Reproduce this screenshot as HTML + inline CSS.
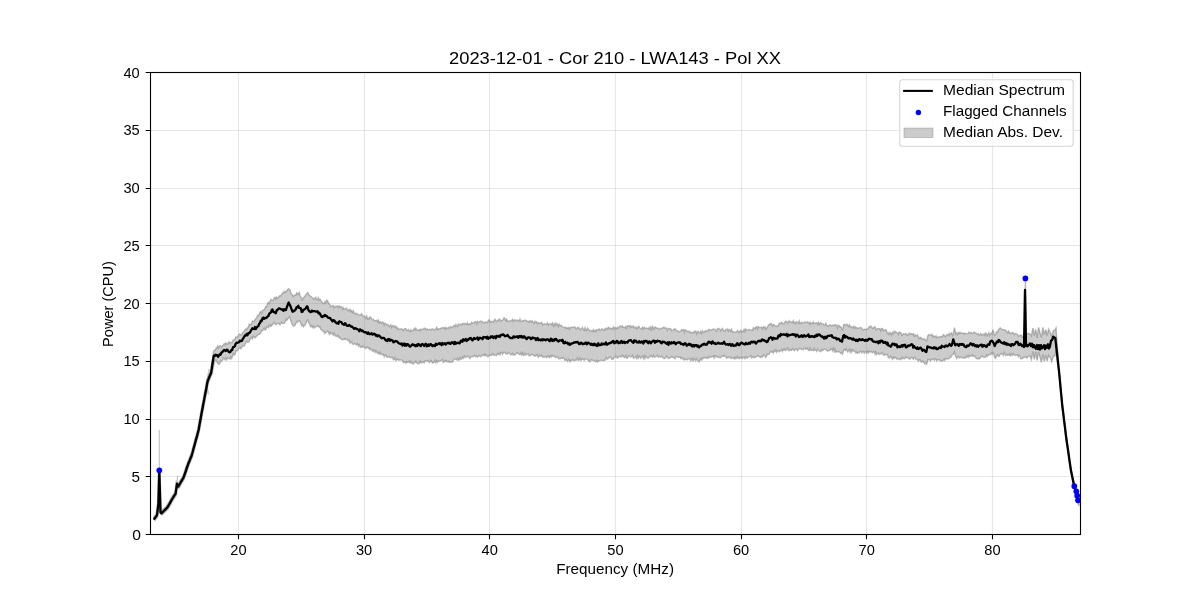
<!DOCTYPE html><html><head><meta charset="utf-8"><style>html,body{margin:0;padding:0;background:#fff;}svg{display:block;will-change:transform;}text{font-family:"Liberation Sans",sans-serif;fill:#000;}</style></head><body>
<svg width="1200" height="600" viewBox="0 0 1200 600">
<path d="M238.50 72.5V534.5" stroke="#b0b0b0" stroke-opacity="0.3" stroke-width="1.1" fill="none"/>
<path d="M364.50 72.5V534.5" stroke="#b0b0b0" stroke-opacity="0.3" stroke-width="1.1" fill="none"/>
<path d="M489.50 72.5V534.5" stroke="#b0b0b0" stroke-opacity="0.3" stroke-width="1.1" fill="none"/>
<path d="M615.50 72.5V534.5" stroke="#b0b0b0" stroke-opacity="0.3" stroke-width="1.1" fill="none"/>
<path d="M741.50 72.5V534.5" stroke="#b0b0b0" stroke-opacity="0.3" stroke-width="1.1" fill="none"/>
<path d="M866.50 72.5V534.5" stroke="#b0b0b0" stroke-opacity="0.3" stroke-width="1.1" fill="none"/>
<path d="M992.50 72.5V534.5" stroke="#b0b0b0" stroke-opacity="0.3" stroke-width="1.1" fill="none"/>
<path d="M150.5 476.50H1080.5" stroke="#b0b0b0" stroke-opacity="0.3" stroke-width="1.1" fill="none"/>
<path d="M150.5 419.50H1080.5" stroke="#b0b0b0" stroke-opacity="0.3" stroke-width="1.1" fill="none"/>
<path d="M150.5 361.50H1080.5" stroke="#b0b0b0" stroke-opacity="0.3" stroke-width="1.1" fill="none"/>
<path d="M150.5 303.50H1080.5" stroke="#b0b0b0" stroke-opacity="0.3" stroke-width="1.1" fill="none"/>
<path d="M150.5 245.50H1080.5" stroke="#b0b0b0" stroke-opacity="0.3" stroke-width="1.1" fill="none"/>
<path d="M150.5 188.50H1080.5" stroke="#b0b0b0" stroke-opacity="0.3" stroke-width="1.1" fill="none"/>
<path d="M150.5 130.50H1080.5" stroke="#b0b0b0" stroke-opacity="0.3" stroke-width="1.1" fill="none"/>
<defs><clipPath id="ax"><rect x="150" y="72" width="931" height="463"/></clipPath></defs>
<g clip-path="url(#ax)"><path d="M153.6 517.2 L154.5 516.0 L155.3 514.9 L156.2 513.7 L157.6 502.3 L158.5 469.2 L159.7 511.1 L160.6 511.9 L161.5 511.0 L162.3 510.2 L163.2 509.3 L164.1 508.4 L165.0 507.5 L165.8 506.7 L166.7 505.8 L167.5 504.4 L168.3 503.0 L169.1 501.6 L169.9 500.1 L170.7 498.7 L171.5 497.3 L172.3 496.0 L173.1 494.7 L174.0 493.4 L174.8 492.1 L176.2 482.2 L177.4 485.1 L178.3 483.6 L179.1 482.2 L180.0 480.7 L180.9 479.2 L181.7 477.8 L182.6 476.3 L183.5 473.8 L184.4 471.3 L185.2 468.8 L186.1 466.2 L187.0 463.7 L187.9 461.2 L188.9 458.9 L189.8 456.5 L190.8 454.2 L191.8 450.7 L192.7 447.2 L193.7 443.7 L194.5 440.7 L195.3 437.6 L196.2 434.6 L197.0 431.5 L197.8 428.5 L198.8 422.7 L199.9 416.8 L200.9 411.0 L201.8 406.5 L202.6 402.0 L203.5 397.5 L204.3 393.0 L205.2 388.5 L206.0 384.0 L206.9 379.5 L207.8 377.4 L208.6 375.4 L209.5 373.3 L210.4 371.2 L211.2 366.1 L212.0 361.0 L212.9 355.9 L213.7 350.8 L214.5 350.3 L215.3 350.2 L216.1 348.0 L216.9 348.0 L217.7 346.0 L218.5 348.1 L219.3 346.2 L220.1 345.7 L220.9 346.1 L221.7 347.1 L222.5 345.6 L223.3 345.0 L224.1 343.9 L224.9 344.8 L225.7 342.8 L226.5 343.8 L227.3 344.1 L228.1 343.5 L228.9 341.8 L229.7 343.5 L230.5 342.4 L231.3 342.5 L232.2 342.6 L233.1 340.0 L234.0 339.9 L234.9 339.5 L235.8 337.0 L236.7 337.5 L237.5 336.7 L238.3 335.6 L239.2 334.1 L240.0 334.2 L240.8 335.0 L241.7 334.7 L242.5 332.9 L243.3 332.0 L244.1 331.6 L245.0 329.9 L245.8 328.9 L246.7 329.6 L247.5 327.8 L248.3 327.4 L249.2 324.2 L250.0 324.5 L250.8 324.9 L251.7 323.1 L252.5 321.0 L253.3 321.4 L254.2 321.5 L255.0 319.8 L255.9 318.5 L256.7 318.0 L257.5 315.5 L258.4 315.8 L259.2 314.4 L260.0 312.5 L260.8 311.6 L261.6 313.3 L262.5 310.7 L263.3 310.0 L264.1 310.1 L265.0 308.2 L265.8 306.5 L266.7 306.7 L267.5 303.8 L268.3 302.4 L269.2 303.9 L270.0 301.6 L270.9 299.4 L271.7 300.0 L272.5 300.4 L273.4 299.8 L274.2 297.8 L275.0 297.3 L275.9 299.2 L276.7 297.0 L277.5 298.3 L278.3 298.0 L279.2 296.1 L280.0 295.8 L280.8 295.8 L281.7 294.2 L282.5 293.6 L283.3 292.0 L284.2 292.7 L285.0 291.3 L285.9 292.0 L286.7 291.2 L287.5 289.8 L288.4 288.9 L289.2 289.2 L290.0 289.7 L290.8 293.2 L291.7 293.9 L292.5 295.4 L293.3 296.7 L294.1 295.4 L295.0 295.3 L295.8 295.3 L296.7 292.9 L297.5 294.4 L298.4 293.8 L299.2 292.5 L300.0 295.5 L300.9 297.3 L301.7 299.4 L302.5 300.0 L303.3 297.6 L304.2 297.3 L305.0 296.1 L305.8 294.7 L306.6 294.1 L307.5 292.8 L308.3 293.3 L309.1 295.4 L310.0 295.8 L310.8 296.1 L311.6 296.9 L312.5 298.2 L313.3 298.3 L314.1 299.5 L315.0 298.0 L315.8 297.4 L316.6 299.6 L317.5 299.8 L318.3 297.7 L319.2 300.2 L320.0 299.2 L320.8 300.4 L321.6 301.6 L322.5 302.7 L323.3 303.3 L324.1 303.7 L325.0 301.7 L325.8 302.8 L326.7 300.3 L327.5 300.8 L328.3 302.7 L329.1 303.8 L330.0 304.8 L330.8 306.7 L331.6 306.5 L332.5 305.6 L333.3 305.7 L334.1 307.9 L335.0 306.6 L335.8 306.2 L336.7 306.6 L337.5 305.9 L338.3 307.5 L339.2 306.0 L340.0 307.5 L340.8 306.6 L341.7 306.9 L342.5 309.4 L343.3 307.8 L344.1 309.1 L345.0 308.7 L345.8 308.8 L346.6 308.2 L347.5 310.5 L348.3 310.0 L349.1 310.8 L350.0 309.3 L350.8 311.7 L351.7 310.5 L352.5 312.3 L353.3 310.8 L354.2 313.1 L355.0 313.2 L355.9 314.2 L356.7 313.3 L357.5 314.4 L358.4 314.4 L359.2 315.0 L360.0 315.3 L360.9 314.6 L361.7 313.8 L362.5 315.7 L363.3 316.1 L364.2 315.9 L365.0 316.7 L365.8 318.2 L366.7 316.0 L367.5 318.9 L368.3 318.2 L369.1 319.2 L370.0 316.8 L370.8 317.3 L371.6 318.9 L372.5 319.7 L373.3 319.2 L374.1 320.8 L375.0 320.8 L375.8 320.3 L376.7 320.2 L377.5 321.8 L378.3 320.2 L379.2 323.1 L380.0 321.7 L380.9 322.1 L381.7 323.3 L382.5 322.1 L383.4 322.6 L384.2 325.1 L385.0 323.3 L385.9 323.8 L386.7 324.1 L387.5 325.4 L388.3 324.9 L389.2 326.6 L390.0 325.8 L390.8 324.9 L391.7 327.6 L392.5 325.6 L393.3 325.8 L394.1 326.9 L395.0 325.9 L395.8 327.8 L396.6 326.9 L397.5 329.1 L398.3 328.3 L399.1 329.4 L400.0 329.2 L400.8 329.3 L401.7 328.5 L402.5 330.0 L403.3 330.7 L404.2 329.0 L405.0 328.8 L405.9 328.7 L406.7 330.3 L407.5 330.4 L408.4 329.5 L409.2 330.7 L410.0 331.5 L410.9 329.8 L411.7 331.1 L412.5 330.6 L413.3 330.1 L414.2 328.6 L415.0 330.0 L415.8 328.3 L416.7 329.7 L417.5 330.3 L418.3 330.4 L419.1 329.7 L420.0 330.8 L420.8 329.2 L421.6 329.5 L422.5 329.5 L423.3 329.2 L424.1 328.2 L425.0 328.2 L425.8 329.8 L426.7 329.2 L427.5 329.0 L428.3 330.1 L429.2 329.6 L430.0 329.3 L430.9 329.9 L431.7 329.2 L432.5 328.9 L433.4 329.1 L434.2 330.0 L435.0 329.9 L435.9 328.7 L436.7 327.4 L437.5 329.8 L438.3 328.9 L439.2 329.2 L440.0 328.7 L440.8 328.3 L441.7 327.8 L442.5 328.0 L443.3 327.7 L444.1 327.6 L445.0 329.2 L445.8 327.5 L446.6 328.8 L447.5 328.2 L448.3 327.5 L449.1 328.4 L450.0 327.1 L450.8 326.6 L451.7 327.7 L452.5 327.4 L453.3 326.0 L454.2 325.4 L455.0 326.6 L455.9 324.5 L456.7 325.8 L457.5 326.5 L458.4 324.1 L459.2 324.5 L460.0 324.7 L460.9 324.2 L461.7 324.8 L462.5 323.6 L463.3 323.8 L464.2 323.6 L465.0 324.2 L465.8 323.7 L466.7 324.6 L467.5 322.7 L468.3 324.5 L469.1 324.8 L470.0 323.7 L470.8 324.1 L471.6 322.4 L472.5 323.1 L473.3 323.0 L474.1 322.6 L475.0 321.7 L475.8 321.7 L476.7 324.0 L477.5 321.5 L478.3 322.3 L479.2 322.2 L480.0 321.4 L480.9 321.1 L481.7 322.0 L482.5 321.6 L483.4 322.8 L484.2 322.9 L485.0 322.2 L485.9 322.0 L486.7 322.4 L487.5 322.7 L488.3 320.2 L489.2 319.8 L490.0 321.3 L490.8 322.3 L491.7 321.4 L492.5 321.5 L493.3 322.2 L494.1 320.3 L495.0 319.3 L495.8 321.3 L496.6 321.6 L497.5 320.1 L498.3 320.5 L499.1 319.2 L500.0 319.4 L500.8 321.1 L501.6 320.7 L502.5 320.4 L503.3 319.2 L504.1 317.8 L505.0 318.8 L505.8 320.6 L506.6 319.1 L507.5 321.5 L508.3 321.0 L509.2 321.5 L510.0 320.8 L510.8 320.8 L511.7 320.8 L512.5 319.4 L513.3 321.4 L514.1 320.0 L515.0 320.4 L515.8 319.9 L516.6 320.9 L517.5 320.1 L518.3 320.5 L519.1 321.1 L520.0 319.1 L520.8 321.4 L521.7 321.5 L522.5 320.7 L523.3 320.8 L524.2 320.5 L525.0 320.3 L525.9 320.2 L526.7 321.3 L527.5 321.3 L528.4 322.2 L529.2 321.0 L530.0 321.9 L530.8 320.8 L531.6 322.0 L532.5 321.0 L533.3 322.5 L534.1 323.6 L535.0 321.2 L535.8 322.4 L536.6 321.7 L537.5 324.0 L538.3 323.0 L539.2 322.8 L540.0 323.5 L540.8 323.2 L541.7 322.3 L542.5 325.0 L543.3 324.1 L544.2 323.9 L545.0 324.0 L545.8 324.0 L546.7 324.2 L547.5 322.9 L548.4 325.0 L549.2 324.2 L550.0 323.9 L550.9 323.8 L551.7 324.8 L552.5 323.1 L553.4 325.7 L554.2 323.7 L555.0 325.5 L555.9 323.2 L556.7 324.7 L557.5 323.9 L558.4 326.4 L559.2 324.3 L560.0 325.6 L560.9 325.6 L561.7 325.5 L562.5 327.0 L563.3 327.4 L564.2 327.6 L565.0 327.0 L565.8 328.5 L566.7 327.6 L567.5 328.3 L568.4 327.6 L569.2 329.2 L570.0 327.5 L570.8 327.3 L571.7 327.7 L572.5 327.2 L573.3 327.5 L574.1 327.0 L575.0 326.9 L575.8 328.6 L576.7 329.0 L577.5 327.4 L578.3 327.5 L579.2 328.1 L580.0 329.7 L580.9 329.1 L581.7 328.7 L582.5 327.5 L583.4 329.5 L584.2 330.2 L585.0 327.8 L585.9 330.5 L586.7 330.5 L587.5 328.0 L588.4 329.3 L589.2 330.2 L590.0 331.2 L590.8 330.7 L591.7 330.6 L592.5 331.4 L593.3 329.8 L594.2 331.5 L595.0 330.3 L595.8 331.5 L596.7 329.7 L597.5 330.0 L598.3 329.7 L599.1 328.9 L600.0 330.6 L600.8 330.3 L601.6 329.0 L602.5 329.0 L603.3 329.7 L604.1 330.3 L605.0 328.8 L605.8 328.3 L606.6 329.5 L607.5 328.2 L608.3 327.3 L609.1 328.8 L610.0 327.9 L610.8 328.5 L611.7 328.7 L612.5 329.4 L613.3 327.0 L614.2 329.1 L615.0 327.5 L615.8 327.7 L616.7 328.8 L617.5 327.5 L618.3 328.1 L619.1 327.0 L620.0 326.0 L620.8 326.2 L621.6 327.0 L622.5 326.0 L623.3 327.5 L624.1 327.2 L625.0 328.0 L625.8 326.4 L626.7 328.4 L627.5 326.0 L628.3 325.8 L629.2 325.7 L630.0 327.5 L630.9 325.9 L631.7 327.0 L632.5 326.6 L633.4 325.9 L634.2 327.8 L635.0 327.9 L635.9 326.8 L636.7 329.0 L637.5 328.3 L638.3 326.5 L639.2 326.9 L640.0 328.3 L640.8 328.7 L641.7 329.1 L642.5 327.3 L643.3 329.1 L644.2 327.3 L645.0 327.9 L645.8 328.2 L646.7 328.0 L647.5 328.7 L648.4 329.1 L649.2 327.5 L650.0 329.4 L650.9 326.9 L651.7 329.5 L652.5 326.7 L653.4 328.0 L654.2 329.3 L655.0 326.9 L655.9 327.6 L656.7 328.0 L657.5 328.3 L658.4 328.4 L659.2 329.2 L660.0 328.9 L660.9 328.2 L661.7 328.6 L662.5 328.3 L663.3 327.3 L664.2 327.2 L665.0 328.4 L665.8 328.2 L666.7 327.9 L667.5 330.4 L668.3 329.0 L669.1 328.5 L670.0 328.6 L670.8 328.9 L671.6 330.8 L672.5 330.5 L673.3 329.7 L674.1 329.4 L675.0 328.6 L675.8 330.4 L676.6 330.5 L677.5 331.5 L678.3 331.2 L679.1 331.8 L680.0 331.5 L680.8 330.9 L681.6 329.7 L682.5 330.2 L683.3 329.7 L684.2 332.2 L685.0 329.6 L685.8 330.1 L686.7 331.5 L687.5 331.2 L688.3 332.0 L689.2 331.2 L690.0 331.7 L690.8 333.0 L691.7 332.5 L692.5 333.1 L693.3 332.0 L694.2 332.7 L695.0 331.1 L695.8 331.0 L696.7 333.9 L697.5 331.6 L698.3 331.5 L699.2 333.1 L700.0 333.0 L700.8 331.4 L701.7 333.2 L702.5 330.8 L703.3 332.0 L704.1 332.4 L705.0 331.0 L705.8 330.8 L706.6 331.0 L707.5 331.4 L708.3 329.7 L709.1 329.4 L710.0 330.5 L710.8 330.1 L711.6 329.7 L712.5 329.6 L713.3 329.0 L714.1 329.2 L715.0 329.4 L715.8 331.2 L716.6 331.3 L717.5 328.5 L718.3 328.5 L719.1 328.9 L720.0 329.3 L720.8 330.8 L721.6 329.4 L722.5 328.4 L723.3 330.0 L724.1 331.4 L725.0 331.2 L725.8 329.5 L726.6 329.5 L727.5 329.1 L728.3 331.1 L729.1 329.4 L730.0 329.9 L730.8 331.3 L731.6 329.3 L732.5 332.2 L733.3 331.7 L734.2 332.0 L735.0 332.1 L735.8 332.2 L736.7 331.8 L737.5 330.5 L738.3 331.5 L739.2 332.7 L740.0 331.5 L740.8 330.4 L741.7 332.1 L742.5 331.0 L743.3 331.3 L744.1 329.4 L745.0 331.7 L745.8 329.0 L746.6 329.9 L747.5 330.3 L748.3 330.0 L749.1 329.3 L750.0 329.9 L750.8 330.0 L751.6 330.2 L752.5 330.5 L753.3 327.7 L754.1 328.0 L755.0 328.8 L755.8 327.0 L756.7 326.8 L757.5 329.1 L758.3 326.6 L759.2 327.6 L760.0 327.5 L760.8 327.6 L761.7 327.3 L762.5 328.9 L763.4 326.8 L764.2 327.8 L765.0 326.8 L765.9 329.4 L766.7 328.3 L767.5 326.6 L768.4 325.8 L769.2 324.3 L770.0 324.7 L770.8 323.5 L771.7 324.2 L772.5 326.2 L773.4 324.5 L774.2 324.9 L775.0 326.3 L775.9 326.1 L776.7 325.8 L777.5 326.4 L778.4 325.4 L779.2 323.3 L780.0 323.0 L780.8 323.6 L781.7 322.3 L782.5 322.9 L783.3 324.0 L784.2 323.9 L785.0 322.0 L785.8 321.2 L786.7 321.4 L787.5 323.3 L788.3 322.6 L789.2 320.7 L790.0 322.0 L790.8 322.0 L791.7 322.0 L792.5 322.5 L793.3 320.7 L794.2 323.3 L795.0 322.2 L795.8 323.5 L796.7 321.8 L797.5 322.7 L798.4 322.9 L799.2 320.9 L800.0 323.7 L800.9 323.1 L801.7 322.2 L802.5 322.6 L803.4 322.9 L804.2 323.0 L805.0 322.1 L805.9 322.4 L806.7 322.5 L807.5 321.8 L808.4 322.4 L809.2 323.6 L810.0 322.3 L810.9 324.1 L811.7 323.1 L812.5 323.4 L813.3 322.0 L814.2 323.6 L815.0 323.6 L815.8 322.8 L816.7 322.7 L817.5 324.1 L818.3 322.3 L819.1 324.6 L820.0 323.2 L820.8 322.6 L821.6 324.2 L822.5 323.9 L823.3 324.2 L824.1 324.9 L825.0 325.2 L825.8 323.3 L826.6 325.0 L827.5 326.1 L828.3 325.8 L829.1 325.7 L830.0 324.7 L830.8 325.4 L831.6 325.9 L832.5 325.3 L833.3 325.3 L834.2 325.8 L835.0 324.6 L835.8 325.4 L836.7 325.1 L837.5 327.7 L838.3 325.4 L839.2 325.6 L840.0 327.0 L840.8 326.8 L841.7 329.0 L842.5 330.0 L843.7 324.7 L844.5 324.3 L845.3 325.5 L846.1 324.7 L847.0 324.2 L847.8 325.3 L848.6 326.6 L849.4 324.8 L850.2 326.9 L851.0 326.5 L851.8 327.8 L852.6 327.0 L853.5 326.3 L854.3 328.2 L855.1 326.8 L855.9 327.8 L856.7 327.5 L857.5 328.5 L858.4 328.2 L859.2 327.9 L860.0 327.8 L860.9 327.4 L861.7 328.4 L862.5 329.5 L863.3 330.1 L864.2 329.4 L865.0 329.2 L865.8 329.7 L866.7 329.1 L867.5 329.0 L868.3 328.2 L869.2 326.8 L870.0 327.0 L870.8 326.1 L871.7 326.9 L872.5 328.5 L873.3 328.1 L874.2 327.0 L875.0 326.8 L875.8 329.6 L876.7 329.1 L877.5 328.6 L878.3 328.6 L879.2 329.0 L880.0 328.6 L880.8 330.8 L881.7 328.6 L882.5 328.5 L883.3 330.9 L884.2 329.9 L885.0 330.3 L885.8 329.8 L886.7 331.1 L887.5 333.4 L888.3 334.3 L889.2 332.4 L890.0 334.2 L890.8 332.9 L891.7 334.9 L892.5 332.4 L893.3 333.5 L894.2 331.2 L895.0 332.5 L895.8 331.8 L896.7 332.7 L897.5 332.8 L898.3 334.6 L899.2 332.0 L900.0 332.8 L900.9 332.8 L901.7 335.2 L902.5 335.1 L903.4 333.7 L904.2 334.2 L905.0 334.3 L905.9 333.5 L906.7 335.0 L907.5 334.6 L908.4 334.9 L909.2 333.1 L910.0 333.5 L910.9 334.5 L911.7 333.7 L912.5 334.6 L913.4 333.8 L914.2 336.1 L915.0 334.8 L915.8 335.9 L916.7 335.6 L917.5 334.9 L918.3 337.8 L919.2 338.7 L920.0 337.1 L920.8 338.5 L921.6 338.0 L922.5 339.3 L923.3 339.2 L924.1 338.5 L925.0 339.8 L925.9 340.5 L926.7 340.8 L928.0 335.3 L928.8 334.6 L929.6 334.6 L930.4 335.3 L931.2 335.2 L932.0 334.4 L932.8 336.8 L933.6 335.9 L934.4 336.3 L935.2 337.3 L936.0 335.9 L936.8 337.7 L937.6 337.0 L938.4 337.5 L939.2 336.7 L940.0 337.0 L940.8 336.6 L941.7 336.3 L942.5 336.8 L943.4 334.7 L944.2 335.1 L945.0 336.5 L945.9 336.3 L946.7 334.7 L947.5 335.2 L948.4 334.2 L949.2 335.5 L950.0 333.2 L950.8 333.9 L951.6 333.0 L952.5 335.5 L953.3 334.4 L954.4 327.7 L955.2 331.2 L956.0 334.0 L956.8 333.0 L957.6 334.6 L958.4 332.7 L959.2 333.3 L960.0 332.3 L960.8 333.4 L961.6 333.1 L962.4 333.0 L963.2 333.3 L964.1 334.1 L964.9 333.0 L965.7 333.8 L966.5 333.9 L967.3 333.7 L968.1 333.5 L968.9 332.2 L969.7 332.5 L970.5 333.1 L971.3 332.7 L972.2 333.7 L973.0 333.5 L973.9 332.0 L974.8 332.9 L975.6 332.8 L976.5 333.5 L977.4 334.3 L978.3 333.7 L979.1 335.4 L980.0 335.0 L980.8 333.5 L981.6 335.1 L982.4 334.5 L983.2 334.7 L984.0 333.9 L984.8 335.4 L985.6 333.1 L986.4 333.6 L987.2 335.8 L988.0 334.4 L988.8 332.8 L989.6 335.5 L990.4 333.8 L991.2 333.0 L992.0 334.0 L993.0 329.6 L993.9 333.2 L994.7 335.3 L995.6 334.6 L996.5 331.9 L997.5 332.1 L998.4 330.0 L999.3 329.0 L1000.2 327.9 L1001.0 328.9 L1001.9 329.2 L1002.7 330.0 L1003.6 329.5 L1004.4 330.0 L1005.3 330.2 L1006.1 330.7 L1007.0 332.0 L1007.8 333.2 L1008.6 331.1 L1009.4 332.5 L1010.2 333.6 L1011.0 332.9 L1011.8 333.0 L1012.6 332.3 L1013.4 332.9 L1014.2 334.6 L1015.0 334.0 L1015.8 333.3 L1016.6 334.0 L1017.4 334.4 L1018.2 335.6 L1019.0 336.5 L1019.8 335.6 L1020.6 335.2 L1021.4 335.1 L1022.2 337.1 L1023.0 337.0 L1024.5 334.0 L1025.4 280.0 L1026.3 334.0 L1027.0 334.0 L1028.0 333.2 L1029.0 333.6 L1030.0 334.0 L1031.4 335.9 L1032.9 328.1 L1034.3 335.6 L1035.7 329.4 L1037.1 337.9 L1038.6 327.3 L1040.0 333.0 L1041.4 337.5 L1042.9 327.3 L1044.3 335.0 L1045.7 329.6 L1047.1 335.5 L1048.6 329.2 L1050.0 332.0 L1051.7 336.2 L1053.3 330.7 L1055.0 330.0 L1056.0 328.0 L1057.0 342.0 L1058.1 356.0 L1059.1 370.0 L1059.9 378.5 L1060.7 387.0 L1061.5 395.5 L1062.3 404.0 L1063.2 410.9 L1064.0 417.8 L1064.9 424.7 L1065.7 431.6 L1066.6 438.5 L1067.5 444.6 L1068.4 450.7 L1069.2 456.8 L1070.1 462.9 L1071.0 469.0 L1071.8 472.8 L1072.6 476.5 L1073.4 480.2 L1074.2 484.0 L1075.0 487.2 L1075.8 490.5 L1076.6 493.8 L1077.4 497.0 L1079.0 502.0 L1079.0 506.0 L1077.4 501.0 L1076.6 497.8 L1075.8 494.5 L1075.0 491.2 L1074.2 488.0 L1073.4 484.1 L1072.6 480.2 L1071.8 476.4 L1071.0 472.5 L1070.1 466.5 L1069.2 460.5 L1068.4 454.5 L1067.5 448.5 L1066.6 442.5 L1065.7 435.6 L1064.9 428.7 L1064.0 421.8 L1063.2 414.9 L1062.3 408.0 L1061.5 399.5 L1060.7 391.0 L1059.9 382.5 L1059.1 374.0 L1058.1 366.0 L1057.0 358.0 L1056.0 350.0 L1055.0 356.0 L1053.3 356.3 L1051.7 361.6 L1050.0 357.0 L1048.6 355.2 L1047.1 361.0 L1045.7 354.8 L1044.3 361.4 L1042.9 354.4 L1041.4 362.2 L1040.0 357.0 L1038.6 352.0 L1037.1 360.4 L1035.7 352.0 L1034.3 359.4 L1032.9 351.3 L1031.4 359.5 L1030.0 356.0 L1029.0 355.7 L1028.0 356.4 L1027.0 358.0 L1026.2 357.1 L1025.4 357.2 L1024.6 356.9 L1023.8 357.2 L1023.0 358.0 L1022.2 358.6 L1021.4 358.7 L1020.6 358.5 L1019.8 356.1 L1019.0 355.2 L1018.2 356.6 L1017.4 354.7 L1016.6 354.8 L1015.8 355.4 L1015.0 355.0 L1014.2 355.1 L1013.3 353.8 L1012.5 355.2 L1011.7 354.1 L1010.8 355.6 L1010.0 353.5 L1009.2 355.3 L1008.3 354.6 L1007.5 355.3 L1006.7 354.6 L1005.8 355.6 L1005.0 354.0 L1004.2 352.6 L1003.3 355.5 L1002.5 354.0 L1001.7 354.1 L1000.8 353.6 L1000.0 354.7 L999.1 356.2 L998.2 356.2 L997.4 354.6 L996.5 355.8 L995.6 358.3 L994.7 357.3 L993.9 354.0 L993.0 352.7 L992.2 354.2 L991.4 352.8 L990.6 354.6 L989.8 354.5 L988.9 355.0 L988.1 354.8 L987.3 356.3 L986.5 355.0 L985.7 357.1 L984.9 357.4 L984.1 357.3 L983.2 356.9 L982.4 355.9 L981.6 356.6 L980.8 356.7 L980.0 358.0 L979.1 359.0 L978.3 358.1 L977.4 358.8 L976.5 358.7 L975.6 357.6 L974.8 356.2 L973.9 355.8 L973.0 356.5 L972.2 354.8 L971.3 356.0 L970.5 356.1 L969.7 355.8 L968.9 357.2 L968.1 355.0 L967.3 356.7 L966.5 357.3 L965.7 356.5 L964.9 358.2 L964.1 357.6 L963.2 358.0 L962.4 357.9 L961.6 357.1 L960.8 357.4 L960.0 357.8 L959.2 357.8 L958.4 356.2 L957.6 357.1 L956.8 358.6 L956.0 357.3 L955.2 355.2 L954.4 352.0 L953.5 353.7 L952.6 354.8 L951.7 355.1 L950.7 357.2 L949.8 357.2 L948.9 358.8 L948.0 358.7 L947.2 358.6 L946.4 358.8 L945.6 358.4 L944.8 360.4 L944.0 359.2 L943.2 360.2 L942.4 361.0 L941.6 361.1 L940.8 360.1 L940.0 360.7 L939.2 359.5 L938.4 359.6 L937.6 359.5 L936.8 361.0 L936.0 359.1 L935.2 358.9 L934.4 360.2 L933.6 359.1 L932.8 358.6 L932.0 359.6 L931.2 359.6 L930.4 360.9 L929.6 359.2 L928.8 359.6 L928.0 359.2 L926.7 364.2 L925.9 363.1 L925.0 364.0 L924.1 362.5 L923.3 361.7 L922.5 361.1 L921.6 362.0 L920.8 361.5 L920.0 359.7 L919.2 359.7 L918.3 361.2 L917.5 359.6 L916.7 359.1 L915.8 359.0 L915.0 357.3 L914.2 357.6 L913.4 359.2 L912.5 358.1 L911.7 357.5 L910.9 357.3 L910.0 359.2 L909.2 358.9 L908.4 357.8 L907.5 357.4 L906.7 357.8 L905.8 356.7 L905.0 358.0 L904.2 358.7 L903.3 357.8 L902.5 358.7 L901.6 357.5 L900.8 359.6 L900.0 359.0 L899.1 359.5 L898.3 358.7 L897.5 358.6 L896.6 359.1 L895.8 357.4 L895.0 357.2 L894.1 358.3 L893.3 357.2 L892.5 359.1 L891.7 357.6 L890.8 356.3 L890.0 357.5 L889.2 357.9 L888.3 357.6 L887.5 354.6 L886.7 354.4 L885.8 354.7 L885.0 354.2 L884.2 355.2 L883.3 355.0 L882.5 353.2 L881.7 353.1 L880.8 354.1 L880.0 353.6 L879.2 354.4 L878.3 353.0 L877.5 353.6 L876.7 354.5 L875.8 351.9 L875.0 354.1 L874.2 351.9 L873.3 351.6 L872.5 352.8 L871.7 352.1 L870.8 351.4 L870.0 352.0 L869.2 351.2 L868.3 352.9 L867.5 351.2 L866.7 353.1 L865.8 351.6 L865.0 351.6 L864.2 353.2 L863.4 351.2 L862.5 351.7 L861.7 352.8 L860.9 351.2 L860.0 351.4 L859.2 352.6 L858.4 352.4 L857.5 353.2 L856.7 352.0 L855.9 353.0 L855.1 351.5 L854.3 350.4 L853.5 351.1 L852.6 349.9 L851.8 351.9 L851.0 350.1 L850.2 352.2 L849.4 349.3 L848.6 350.7 L847.8 352.0 L847.0 350.7 L846.1 348.9 L845.3 350.5 L844.5 349.4 L843.7 349.7 L842.5 354.2 L841.7 353.1 L840.8 353.4 L840.0 352.5 L839.2 351.6 L838.3 351.8 L837.5 351.4 L836.7 351.9 L835.9 352.1 L835.0 349.2 L834.2 351.5 L833.4 348.4 L832.5 350.8 L831.7 349.2 L830.9 348.6 L830.0 350.5 L829.2 350.4 L828.3 350.4 L827.5 351.2 L826.7 350.1 L825.8 349.9 L825.0 349.1 L824.1 349.1 L823.3 350.3 L822.5 350.7 L821.6 349.5 L820.8 351.5 L820.0 351.5 L819.1 350.8 L818.3 349.5 L817.5 349.2 L816.7 351.4 L815.8 350.2 L815.0 350.2 L814.2 348.3 L813.3 350.7 L812.5 350.2 L811.7 350.2 L810.9 350.4 L810.0 348.1 L809.2 350.5 L808.4 350.2 L807.5 348.1 L806.7 349.2 L805.9 349.3 L805.0 348.0 L804.2 348.3 L803.4 349.8 L802.5 349.2 L801.7 349.3 L800.9 349.0 L800.0 348.2 L799.2 348.7 L798.4 349.9 L797.5 350.7 L796.7 348.9 L795.8 349.5 L795.0 349.5 L794.2 350.6 L793.3 349.0 L792.5 348.5 L791.7 350.5 L790.8 350.3 L790.0 349.2 L789.2 350.7 L788.3 349.8 L787.5 348.1 L786.7 349.6 L785.8 350.4 L785.0 348.7 L784.2 350.1 L783.3 349.2 L782.5 351.3 L781.7 349.6 L780.8 350.8 L780.0 350.3 L779.2 351.7 L778.3 350.8 L777.5 350.8 L776.7 352.2 L775.8 350.0 L775.0 351.5 L774.2 350.4 L773.3 353.0 L772.5 351.6 L771.7 352.1 L770.8 351.3 L770.0 352.5 L769.2 354.2 L768.4 354.4 L767.5 353.9 L766.7 355.8 L765.9 357.4 L765.0 356.0 L764.2 355.4 L763.4 354.7 L762.5 357.1 L761.7 356.4 L760.8 357.6 L760.0 357.2 L759.2 356.5 L758.3 356.1 L757.5 355.6 L756.6 356.4 L755.8 356.9 L755.0 357.2 L754.1 357.8 L753.3 356.7 L752.5 356.9 L751.6 357.8 L750.8 355.6 L750.0 356.6 L749.1 356.6 L748.3 356.8 L747.5 358.0 L746.6 357.8 L745.8 356.8 L745.0 358.7 L744.2 357.0 L743.3 357.3 L742.5 358.5 L741.7 357.2 L740.8 358.1 L740.0 357.3 L739.2 358.7 L738.3 358.1 L737.5 356.4 L736.7 358.4 L735.9 357.4 L735.0 359.0 L734.2 357.4 L733.4 358.5 L732.5 357.6 L731.7 358.3 L730.9 358.5 L730.0 357.0 L729.2 356.9 L728.3 357.7 L727.5 357.1 L726.7 358.2 L725.8 356.7 L725.0 356.4 L724.1 355.2 L723.3 356.3 L722.5 355.8 L721.6 356.3 L720.8 357.5 L720.0 357.9 L719.1 357.1 L718.3 356.9 L717.5 357.2 L716.6 356.2 L715.8 356.6 L715.0 355.8 L714.1 358.1 L713.3 355.8 L712.5 356.7 L711.6 357.0 L710.8 356.4 L710.0 357.3 L709.1 357.9 L708.3 356.7 L707.5 358.5 L706.6 358.2 L705.8 358.0 L705.0 357.4 L704.1 357.8 L703.3 358.6 L702.5 358.0 L701.7 360.0 L700.8 358.5 L700.0 360.3 L699.2 361.7 L698.3 361.2 L697.5 359.8 L696.7 358.6 L695.8 360.8 L695.0 359.0 L694.2 358.3 L693.3 360.7 L692.5 360.0 L691.7 358.3 L690.8 360.7 L690.0 359.2 L689.2 358.9 L688.3 358.6 L687.5 359.7 L686.7 359.5 L685.8 359.0 L685.0 359.8 L684.2 359.9 L683.3 358.1 L682.5 358.9 L681.6 357.6 L680.8 358.5 L680.0 356.9 L679.1 357.4 L678.3 357.5 L677.5 356.7 L676.6 356.5 L675.8 356.6 L675.0 358.8 L674.1 357.4 L673.3 357.5 L672.5 356.8 L671.6 357.2 L670.8 357.2 L670.0 357.3 L669.1 358.6 L668.3 358.1 L667.5 357.4 L666.7 355.9 L665.8 357.7 L665.0 358.2 L664.2 358.4 L663.3 358.0 L662.5 357.3 L661.7 356.1 L660.9 357.1 L660.0 356.5 L659.2 356.6 L658.4 357.2 L657.5 355.1 L656.7 356.3 L655.9 356.6 L655.0 357.1 L654.2 357.1 L653.4 355.4 L652.5 357.2 L651.7 356.0 L650.9 355.5 L650.0 356.7 L649.2 357.0 L648.4 358.0 L647.5 358.1 L646.7 357.0 L645.8 356.2 L645.0 358.5 L644.2 356.0 L643.3 358.5 L642.5 356.4 L641.7 356.1 L640.8 358.3 L640.0 357.2 L639.2 356.1 L638.3 358.3 L637.5 355.8 L636.7 358.3 L635.9 356.6 L635.0 357.6 L634.2 357.6 L633.4 358.2 L632.5 355.4 L631.7 356.7 L630.9 356.9 L630.0 356.6 L629.2 356.0 L628.4 355.9 L627.5 358.2 L626.7 358.3 L625.9 355.4 L625.0 357.3 L624.2 357.8 L623.4 355.9 L622.5 355.5 L621.7 356.9 L620.9 356.2 L620.0 356.7 L619.2 356.3 L618.4 357.1 L617.5 358.2 L616.7 357.0 L615.9 356.2 L615.0 357.3 L614.2 357.2 L613.4 358.9 L612.5 358.8 L611.7 359.2 L610.9 357.5 L610.0 356.9 L609.2 357.4 L608.4 358.2 L607.5 359.1 L606.7 358.7 L605.9 357.7 L605.0 360.3 L604.2 360.2 L603.4 360.5 L602.5 360.6 L601.7 360.1 L600.9 360.1 L600.0 360.6 L599.2 360.6 L598.3 361.4 L597.5 361.9 L596.7 360.4 L595.8 361.6 L595.0 361.3 L594.2 360.5 L593.3 360.2 L592.5 360.3 L591.7 360.1 L590.8 359.7 L590.0 361.7 L589.2 361.6 L588.4 360.6 L587.5 359.4 L586.7 359.1 L585.9 359.1 L585.0 359.0 L584.2 360.3 L583.4 358.8 L582.5 359.2 L581.7 359.2 L580.9 360.5 L580.0 358.1 L579.2 359.9 L578.4 360.3 L577.5 358.1 L576.7 360.1 L575.8 359.6 L575.0 360.5 L574.2 360.5 L573.3 360.4 L572.5 359.3 L571.6 360.4 L570.8 360.5 L570.0 361.7 L569.1 359.3 L568.3 360.3 L567.5 361.2 L566.6 359.2 L565.8 360.2 L565.0 360.4 L564.2 358.6 L563.3 357.5 L562.5 358.5 L561.7 358.4 L560.8 358.0 L560.0 358.7 L559.2 358.3 L558.4 358.8 L557.5 356.5 L556.7 357.0 L555.9 357.6 L555.0 356.7 L554.2 356.0 L553.4 356.4 L552.5 355.5 L551.7 356.7 L550.9 355.4 L550.0 357.4 L549.2 357.7 L548.4 355.6 L547.5 356.2 L546.7 357.7 L545.8 356.2 L545.0 356.9 L544.2 357.3 L543.3 357.2 L542.5 356.9 L541.7 355.2 L540.8 356.3 L540.0 356.0 L539.2 354.9 L538.3 357.1 L537.5 356.0 L536.6 354.6 L535.8 355.5 L535.0 356.3 L534.1 355.4 L533.3 355.3 L532.5 354.5 L531.6 354.2 L530.8 354.8 L530.0 355.9 L529.2 355.9 L528.4 353.8 L527.5 354.1 L526.7 354.2 L525.9 355.1 L525.0 353.4 L524.2 355.2 L523.3 355.3 L522.5 352.9 L521.7 355.0 L520.8 352.9 L520.0 354.5 L519.1 354.3 L518.3 353.3 L517.5 352.7 L516.6 353.3 L515.8 353.9 L515.0 355.0 L514.1 354.5 L513.3 355.1 L512.5 353.3 L511.7 354.4 L510.8 354.9 L510.0 353.7 L509.2 353.1 L508.3 352.3 L507.5 354.0 L506.6 353.8 L505.8 353.8 L505.0 352.3 L504.1 352.5 L503.3 352.5 L502.5 354.3 L501.6 352.3 L500.8 352.5 L500.0 354.8 L499.1 353.2 L498.3 354.2 L497.5 353.6 L496.6 355.6 L495.8 355.1 L495.0 355.0 L494.1 355.6 L493.3 354.3 L492.5 353.4 L491.7 355.2 L490.8 355.4 L490.0 355.0 L489.2 355.2 L488.3 356.6 L487.5 356.8 L486.7 355.4 L485.9 354.4 L485.0 355.9 L484.2 354.3 L483.4 355.6 L482.5 355.0 L481.7 355.8 L480.9 356.6 L480.0 356.1 L479.2 355.4 L478.3 356.2 L477.5 357.0 L476.7 355.5 L475.8 356.8 L475.0 356.0 L474.1 355.4 L473.3 356.7 L472.5 356.3 L471.6 356.6 L470.8 356.6 L470.0 358.5 L469.1 357.3 L468.3 356.1 L467.5 356.1 L466.7 357.0 L465.8 356.3 L465.0 357.5 L464.2 356.3 L463.3 358.3 L462.5 357.0 L461.7 359.0 L460.9 359.4 L460.0 357.5 L459.2 359.8 L458.4 360.4 L457.5 358.3 L456.7 359.7 L455.9 359.1 L455.0 358.8 L454.2 359.4 L453.3 360.4 L452.5 362.0 L451.7 361.9 L450.8 362.2 L450.0 361.6 L449.1 362.3 L448.3 361.3 L447.5 361.4 L446.6 361.9 L445.8 360.4 L445.0 360.9 L444.1 361.9 L443.3 362.4 L442.5 359.6 L441.7 360.2 L440.8 360.8 L440.0 360.8 L439.2 361.1 L438.3 361.0 L437.5 362.4 L436.7 360.8 L435.9 362.7 L435.0 360.4 L434.2 362.3 L433.4 362.6 L432.5 363.0 L431.7 361.7 L430.9 360.4 L430.0 361.7 L429.2 362.5 L428.3 360.5 L427.5 361.1 L426.7 360.9 L425.8 361.1 L425.0 360.8 L424.1 362.9 L423.3 361.7 L422.5 361.9 L421.6 363.0 L420.8 362.7 L420.0 361.1 L419.1 363.6 L418.3 363.5 L417.5 363.5 L416.7 362.8 L415.8 361.2 L415.0 362.5 L414.2 362.4 L413.3 363.9 L412.5 363.7 L411.7 363.0 L410.9 361.4 L410.0 362.9 L409.2 361.0 L408.4 362.1 L407.5 362.4 L406.7 361.7 L405.9 363.1 L405.0 362.4 L404.2 361.9 L403.3 362.4 L402.5 360.5 L401.7 360.1 L400.8 360.1 L400.0 359.7 L399.1 360.2 L398.3 360.0 L397.5 358.8 L396.6 360.0 L395.8 360.4 L395.0 357.9 L394.1 359.6 L393.3 359.7 L392.5 357.0 L391.7 357.2 L390.8 357.8 L390.0 357.5 L389.2 356.7 L388.3 357.0 L387.5 356.8 L386.7 357.0 L385.9 354.8 L385.0 355.5 L384.2 356.7 L383.4 354.4 L382.5 354.7 L381.7 354.2 L380.9 354.4 L380.0 352.1 L379.2 354.1 L378.3 352.5 L377.5 353.2 L376.7 351.1 L375.8 352.3 L375.0 350.5 L374.1 351.8 L373.3 350.0 L372.5 351.1 L371.6 349.7 L370.8 349.0 L370.0 349.8 L369.1 347.7 L368.3 348.4 L367.5 347.1 L366.7 347.2 L365.8 348.5 L365.0 347.5 L364.2 347.3 L363.3 346.2 L362.5 347.2 L361.7 346.3 L360.9 347.4 L360.0 346.6 L359.2 344.6 L358.4 346.0 L357.5 343.9 L356.7 345.0 L355.9 344.2 L355.0 343.4 L354.2 344.0 L353.3 344.5 L352.5 343.8 L351.7 341.7 L350.8 342.1 L350.0 343.2 L349.1 340.1 L348.3 340.8 L347.5 339.9 L346.6 339.1 L345.8 339.4 L345.0 338.5 L344.1 339.6 L343.3 339.1 L342.5 339.9 L341.7 339.4 L340.8 338.7 L340.0 337.5 L339.2 338.0 L338.3 335.5 L337.5 336.7 L336.7 336.0 L335.9 336.2 L335.0 335.1 L334.2 333.3 L333.4 335.2 L332.5 333.4 L331.7 333.3 L330.9 333.9 L330.0 332.5 L329.2 334.2 L328.3 331.7 L327.5 331.1 L326.7 331.9 L325.8 332.3 L325.0 333.5 L324.1 331.3 L323.3 331.7 L322.5 330.4 L321.6 329.7 L320.8 329.5 L320.0 326.7 L319.2 327.4 L318.3 325.5 L317.5 325.7 L316.7 326.7 L315.8 326.6 L315.0 326.8 L314.1 328.1 L313.3 326.1 L312.5 327.4 L311.6 325.8 L310.8 326.7 L309.9 324.8 L308.9 323.1 L308.0 320.0 L307.1 320.2 L306.1 322.8 L305.2 325.0 L304.2 325.8 L303.3 326.7 L302.5 324.9 L301.7 325.6 L300.8 323.4 L300.0 321.3 L299.2 320.8 L298.4 320.9 L297.5 322.3 L296.7 321.6 L295.8 323.7 L295.0 325.2 L294.1 326.0 L293.3 325.8 L292.4 324.8 L291.4 322.3 L290.4 319.3 L289.5 316.7 L288.6 317.4 L287.7 319.1 L286.8 320.4 L286.0 319.3 L285.1 321.9 L284.2 323.3 L283.3 323.3 L282.5 323.4 L281.6 322.3 L280.8 323.6 L280.0 324.8 L279.1 323.4 L278.3 323.6 L277.5 323.4 L276.6 324.0 L275.8 324.7 L275.0 323.4 L274.1 322.5 L273.3 324.0 L272.5 324.2 L271.6 326.1 L270.8 324.8 L270.0 326.6 L269.1 325.1 L268.3 327.8 L267.5 327.1 L266.6 326.7 L265.8 329.5 L265.0 330.0 L264.1 328.0 L263.3 329.5 L262.5 330.7 L261.6 330.7 L260.8 332.8 L260.0 334.0 L259.2 334.5 L258.4 334.1 L257.5 335.2 L256.7 336.0 L255.9 337.1 L255.0 337.9 L254.2 336.4 L253.3 336.2 L252.5 338.7 L251.7 337.1 L250.8 338.7 L250.0 339.0 L249.2 341.3 L248.3 342.2 L247.5 342.5 L246.7 341.2 L245.8 342.6 L245.0 344.3 L244.1 346.1 L243.3 345.5 L242.5 345.6 L241.7 347.5 L240.8 348.8 L240.0 347.4 L239.2 348.2 L238.3 349.1 L237.5 350.6 L236.7 351.0 L235.9 351.0 L235.0 354.4 L234.2 355.0 L233.3 353.6 L232.5 356.0 L231.7 358.5 L230.8 356.7 L230.0 359.0 L229.2 358.4 L228.3 358.3 L227.5 357.9 L226.7 359.7 L225.8 357.9 L225.0 359.6 L224.1 358.5 L223.3 358.0 L222.4 360.4 L221.4 361.3 L220.5 361.3 L219.5 364.1 L218.6 364.0 L217.7 363.2 L216.7 361.4 L215.8 360.0 L214.8 360.6 L213.9 365.1 L212.9 369.7 L212.0 374.2 L211.1 376.3 L210.2 378.4 L209.4 380.4 L208.5 382.5 L207.6 387.0 L206.8 391.5 L205.9 396.0 L205.1 400.5 L204.2 405.0 L203.4 409.5 L202.5 414.0 L201.5 419.8 L200.4 425.7 L199.4 431.5 L198.6 434.5 L197.8 437.6 L196.9 440.6 L196.1 443.7 L195.3 446.7 L194.3 450.2 L193.4 453.7 L192.4 457.2 L191.4 459.5 L190.5 461.9 L189.5 464.2 L188.6 466.7 L187.7 469.2 L186.9 471.8 L186.0 474.3 L185.1 476.8 L184.2 479.3 L183.3 480.8 L182.5 482.2 L181.6 483.7 L180.7 485.2 L179.9 486.6 L179.0 488.1 L177.8 485.2 L176.4 495.1 L175.6 496.4 L174.8 497.7 L173.9 499.0 L173.1 500.3 L172.3 501.7 L171.5 503.1 L170.7 504.6 L169.9 506.0 L169.1 507.4 L168.3 508.8 L167.4 509.7 L166.6 510.5 L165.7 511.4 L164.8 512.3 L163.9 513.2 L163.1 514.0 L162.2 514.9 L161.3 514.1 L160.1 472.2 L159.2 505.3 L157.8 516.7 L156.9 517.9 L156.1 519.0 L155.2 520.2 Z" fill="#808080" fill-opacity="0.4" stroke="#808080" stroke-opacity="0.55" stroke-width="1.39" stroke-linejoin="miter"/>
<path d="M159.3 470 L159.3 430" stroke="#808080" stroke-opacity="0.45" stroke-width="1.2"/>
<path d="M177 485 L177.6 475.5" stroke="#808080" stroke-opacity="0.45" stroke-width="1.2"/>
<path d="M209.2 369 L206.5 384 L208.5 394.5" stroke="#808080" stroke-opacity="0.4" stroke-width="1.5" fill="none"/>
<path d="M154.4 518.7 L155.3 517.5 L156.1 516.4 L157.0 515.2 L158.4 503.8 L159.3 470.7 L160.5 512.6 L161.4 513.4 L162.3 512.5 L163.1 511.7 L164.0 510.8 L164.9 509.9 L165.8 509.0 L166.6 508.2 L167.5 507.3 L168.3 505.9 L169.1 504.5 L169.9 503.1 L170.7 501.6 L171.5 500.2 L172.3 498.8 L173.1 497.5 L173.9 496.2 L174.8 494.9 L175.6 493.6 L177.0 483.7 L178.2 486.6 L179.1 485.1 L179.9 483.7 L180.8 482.2 L181.7 480.7 L182.5 479.3 L183.4 477.8 L184.3 475.3 L185.2 472.8 L186.1 470.2 L186.9 467.7 L187.8 465.2 L188.7 462.7 L189.7 460.4 L190.6 458.0 L191.6 455.7 L192.6 452.2 L193.5 448.7 L194.5 445.2 L195.3 442.2 L196.1 439.1 L197.0 436.1 L197.8 433.0 L198.6 430.0 L199.6 424.2 L200.7 418.3 L201.7 412.5 L202.6 408.0 L203.4 403.5 L204.3 399.0 L205.1 394.5 L206.0 390.0 L206.8 385.5 L207.7 381.0 L208.6 378.9 L209.4 376.9 L210.3 374.8 L211.2 372.7 L212.0 367.0 L212.9 361.3 L213.8 355.6 L214.6 356.1 L215.4 354.7 L216.3 355.3 L217.2 355.2 L218.0 356.8 L218.9 355.5 L219.8 354.3 L220.6 354.7 L221.5 352.4 L222.4 351.9 L223.3 350.8 L224.1 349.9 L225.0 350.4 L225.8 351.1 L226.7 349.7 L227.6 350.0 L228.6 351.7 L229.6 352.3 L230.5 351.9 L231.4 349.9 L232.2 350.1 L233.1 347.2 L233.9 347.0 L234.8 346.4 L235.6 343.8 L236.5 342.7 L237.4 342.8 L238.2 342.5 L239.1 342.2 L239.9 340.6 L240.8 341.0 L241.9 340.9 L242.9 338.8 L244.0 337.2 L244.9 335.5 L245.7 335.5 L246.6 334.0 L247.4 335.3 L248.3 333.2 L249.1 333.2 L250.0 332.4 L250.8 330.8 L251.7 329.4 L252.5 328.3 L253.3 328.9 L254.2 329.0 L255.0 327.0 L255.9 329.0 L256.7 327.5 L257.5 326.5 L258.4 326.2 L259.2 323.7 L260.0 323.1 L260.8 320.6 L261.7 321.0 L262.5 318.3 L263.3 317.5 L264.2 318.8 L265.0 318.0 L265.9 318.1 L266.7 317.5 L267.5 316.5 L268.4 316.1 L269.2 313.7 L270.0 313.1 L270.9 312.5 L271.7 310.0 L272.5 309.5 L273.4 312.2 L274.2 312.2 L275.0 312.5 L275.8 313.3 L276.7 310.1 L277.5 310.0 L278.3 308.9 L279.2 308.3 L280.0 308.7 L280.8 309.1 L281.7 309.5 L282.5 309.5 L283.3 310.7 L284.1 309.2 L285.0 310.1 L285.8 310.0 L286.8 307.3 L287.7 304.9 L288.7 302.5 L289.6 304.6 L290.6 306.5 L291.6 309.4 L292.5 311.7 L293.3 311.4 L294.2 310.4 L295.0 310.4 L295.8 309.2 L296.6 307.2 L297.5 307.1 L298.3 305.8 L299.1 308.0 L300.0 308.2 L300.8 308.2 L301.7 311.9 L302.5 311.7 L303.3 309.8 L304.2 309.6 L305.0 309.0 L305.8 308.4 L306.7 306.4 L307.5 306.7 L308.3 309.6 L309.2 311.3 L310.0 311.7 L310.8 312.1 L311.7 310.6 L312.5 311.5 L313.4 311.1 L314.2 311.2 L315.0 311.2 L315.9 311.7 L316.7 311.7 L317.5 311.3 L318.4 313.2 L319.2 312.8 L320.0 313.9 L320.9 315.6 L321.7 316.7 L322.5 317.1 L323.4 316.0 L324.2 316.1 L325.0 314.9 L325.9 315.9 L326.7 315.8 L327.5 317.1 L328.4 317.8 L329.2 317.8 L330.0 317.8 L330.9 319.5 L331.7 320.0 L332.5 321.3 L333.4 320.1 L334.2 320.3 L335.0 321.5 L335.9 322.7 L336.7 323.3 L337.5 322.7 L338.4 323.8 L339.2 321.4 L340.0 321.7 L340.8 321.9 L341.7 322.5 L342.5 324.1 L343.3 324.2 L344.1 324.8 L345.0 323.2 L345.8 323.9 L346.6 325.5 L347.5 325.9 L348.3 325.8 L349.1 324.9 L350.0 325.6 L350.8 326.6 L351.7 326.3 L352.5 327.2 L353.3 327.7 L354.2 328.9 L355.0 328.1 L355.9 328.3 L356.7 329.2 L357.5 329.1 L358.4 329.8 L359.2 331.2 L360.0 329.4 L360.9 330.2 L361.7 331.1 L362.5 330.5 L363.3 331.6 L364.2 332.1 L365.0 332.5 L365.8 332.1 L366.7 332.8 L367.5 333.9 L368.3 332.4 L369.1 334.1 L370.0 333.7 L370.8 334.1 L371.6 333.1 L372.5 334.6 L373.3 334.2 L374.1 333.6 L375.0 334.2 L375.8 335.6 L376.7 334.9 L377.5 336.4 L378.3 335.4 L379.2 335.7 L380.0 336.4 L380.9 337.5 L381.7 338.3 L382.5 337.9 L383.4 337.9 L384.2 338.1 L385.0 339.4 L385.9 340.5 L386.7 339.9 L387.5 341.0 L388.3 339.0 L389.2 339.2 L390.0 340.8 L390.8 339.8 L391.7 340.3 L392.5 340.3 L393.3 342.3 L394.1 342.2 L395.0 341.4 L395.8 341.0 L396.6 341.4 L397.5 341.6 L398.3 343.0 L399.1 343.3 L400.0 343.7 L400.8 344.1 L401.7 343.5 L402.5 345.6 L403.3 344.4 L404.2 343.5 L405.0 345.8 L405.9 344.0 L406.7 345.5 L407.5 344.2 L408.4 344.5 L409.2 346.0 L410.0 346.7 L410.9 345.8 L411.7 345.2 L412.5 344.3 L413.3 345.1 L414.2 344.8 L415.0 345.8 L415.8 346.2 L416.7 344.7 L417.5 345.8 L418.3 344.0 L419.1 344.5 L420.0 345.6 L420.8 346.1 L421.6 344.4 L422.5 344.0 L423.3 344.7 L424.1 346.0 L425.0 344.5 L425.8 343.7 L426.7 346.3 L427.5 345.6 L428.3 344.4 L429.2 345.8 L430.0 344.3 L430.9 344.1 L431.7 345.3 L432.5 346.1 L433.4 345.2 L434.2 345.7 L435.0 346.1 L435.9 343.6 L436.7 344.9 L437.5 344.2 L438.3 343.8 L439.2 343.3 L440.0 344.2 L440.8 343.4 L441.7 345.1 L442.5 343.0 L443.3 344.3 L444.1 343.8 L445.0 343.3 L445.8 344.5 L446.6 343.6 L447.5 342.9 L448.3 343.3 L449.1 342.8 L450.0 343.8 L450.8 343.8 L451.7 342.2 L452.5 342.8 L453.3 342.4 L454.2 344.1 L455.0 342.0 L455.9 343.8 L456.7 343.0 L457.5 342.9 L458.4 342.7 L459.2 343.4 L460.0 342.9 L460.9 340.7 L461.7 340.7 L462.5 341.7 L463.3 339.3 L464.2 340.6 L465.0 340.0 L465.8 338.9 L466.7 341.0 L467.5 339.6 L468.3 339.8 L469.1 338.8 L470.0 338.2 L470.8 338.0 L471.6 339.6 L472.5 340.4 L473.3 339.2 L474.1 338.0 L475.0 339.0 L475.8 338.8 L476.7 338.3 L477.5 337.4 L478.3 339.8 L479.2 338.8 L480.0 337.7 L480.9 338.2 L481.7 338.3 L482.5 339.2 L483.4 337.0 L484.2 337.4 L485.0 337.4 L485.9 337.1 L486.7 338.4 L487.5 336.8 L488.3 338.7 L489.2 337.8 L490.0 338.0 L490.8 336.5 L491.7 337.1 L492.5 336.2 L493.3 338.1 L494.1 337.4 L495.0 336.5 L495.8 338.2 L496.6 335.9 L497.5 336.7 L498.3 336.7 L499.1 335.7 L500.0 336.7 L500.9 334.9 L501.7 335.0 L502.5 334.6 L503.4 334.4 L504.2 335.5 L505.0 336.3 L505.9 335.8 L506.7 335.8 L507.5 334.9 L508.4 336.4 L509.2 337.0 L510.0 337.8 L510.9 338.1 L511.7 338.0 L512.5 338.2 L513.4 336.4 L514.2 336.5 L515.0 337.4 L515.9 336.9 L516.7 336.3 L517.5 336.3 L518.4 337.8 L519.2 336.2 L520.0 336.0 L520.8 337.0 L521.6 336.0 L522.5 337.6 L523.3 337.5 L524.1 336.3 L525.0 337.2 L525.8 338.4 L526.7 339.1 L527.5 337.6 L528.3 337.5 L529.2 337.5 L530.0 337.7 L530.9 339.1 L531.7 338.7 L532.5 337.5 L533.4 338.0 L534.2 338.1 L535.0 338.1 L535.9 340.1 L536.7 339.2 L537.5 338.0 L538.3 340.2 L539.2 339.9 L540.0 339.4 L540.8 340.4 L541.7 339.4 L542.5 340.3 L543.3 339.1 L544.1 339.8 L545.0 339.7 L545.8 340.3 L546.6 339.5 L547.5 339.4 L548.3 339.7 L549.1 341.0 L550.0 341.1 L550.8 338.7 L551.7 339.3 L552.5 341.0 L553.3 339.8 L554.2 340.5 L555.0 339.1 L555.9 338.8 L556.7 340.3 L557.5 340.4 L558.4 341.5 L559.2 340.5 L560.0 340.5 L560.9 340.3 L561.7 340.8 L562.5 339.8 L563.4 342.8 L564.2 343.3 L565.0 341.7 L565.8 342.9 L566.6 343.0 L567.5 342.7 L568.3 344.2 L569.1 343.4 L570.0 344.8 L570.8 343.9 L571.6 343.4 L572.5 343.3 L573.3 343.0 L574.1 342.4 L575.0 342.6 L575.8 342.1 L576.7 342.3 L577.5 341.9 L578.3 342.6 L579.2 344.1 L580.0 343.9 L580.9 342.7 L581.7 343.0 L582.5 344.2 L583.4 343.7 L584.2 343.8 L585.0 343.1 L585.9 342.4 L586.7 344.4 L587.5 343.4 L588.3 342.6 L589.2 343.5 L590.0 343.7 L590.8 344.9 L591.7 343.7 L592.5 344.8 L593.3 345.1 L594.2 343.8 L595.0 345.0 L595.8 344.3 L596.7 345.8 L597.5 345.8 L598.3 343.3 L599.1 345.2 L600.0 345.2 L600.8 345.0 L601.6 343.4 L602.5 344.5 L603.3 343.7 L604.1 344.1 L605.0 344.3 L605.8 342.4 L606.6 344.5 L607.5 344.5 L608.3 343.6 L609.2 343.2 L610.0 343.3 L610.8 342.4 L611.7 342.5 L612.5 341.4 L613.3 341.0 L614.2 343.3 L615.0 342.0 L615.8 342.8 L616.7 340.9 L617.5 341.1 L618.3 343.2 L619.1 342.7 L620.0 343.0 L620.8 341.5 L621.6 341.0 L622.5 342.9 L623.3 342.0 L624.1 341.7 L625.0 343.0 L625.8 342.2 L626.7 342.1 L627.5 342.6 L628.3 341.0 L629.2 340.5 L630.0 340.4 L630.9 340.1 L631.7 341.3 L632.5 342.2 L633.4 342.9 L634.2 340.4 L635.0 341.2 L635.9 340.6 L636.7 342.3 L637.5 342.3 L638.3 342.5 L639.2 341.2 L640.0 342.5 L640.8 342.6 L641.7 341.5 L642.5 342.1 L643.3 343.5 L644.2 341.0 L645.0 341.5 L645.8 340.9 L646.7 340.9 L647.5 342.5 L648.3 343.2 L649.2 341.4 L650.0 342.0 L650.8 343.2 L651.7 342.1 L652.5 341.3 L653.3 340.6 L654.2 340.9 L655.0 342.8 L655.8 341.1 L656.7 341.8 L657.5 340.7 L658.3 341.1 L659.2 341.1 L660.0 341.3 L660.8 342.7 L661.7 343.2 L662.5 341.6 L663.4 342.0 L664.2 341.9 L665.0 342.5 L665.9 343.2 L666.7 343.7 L667.5 342.4 L668.4 344.8 L669.2 342.2 L670.0 342.8 L670.8 343.6 L671.6 342.3 L672.5 343.0 L673.3 343.0 L674.1 341.9 L675.0 343.3 L675.8 344.2 L676.7 342.8 L677.5 342.6 L678.3 342.6 L679.2 342.3 L680.0 342.3 L680.9 344.0 L681.7 343.7 L682.5 344.2 L683.4 345.0 L684.2 343.9 L685.0 343.2 L685.9 343.9 L686.7 345.7 L687.5 344.7 L688.3 344.9 L689.2 343.7 L690.0 345.0 L690.8 344.2 L691.7 345.9 L692.5 346.4 L693.3 344.9 L694.2 346.5 L695.0 345.1 L695.8 345.5 L696.7 345.1 L697.5 346.6 L698.3 345.6 L699.2 347.4 L700.0 346.3 L700.8 346.2 L701.6 345.2 L702.5 344.5 L703.3 344.7 L704.1 343.6 L705.0 344.4 L705.9 344.8 L706.7 344.7 L708.3 342.0 L709.1 341.7 L710.0 342.8 L710.8 342.3 L711.6 343.7 L712.5 341.4 L713.3 342.6 L714.2 343.6 L715.0 343.0 L715.8 344.0 L716.7 343.6 L717.5 343.2 L718.3 342.7 L719.1 343.4 L720.0 343.6 L720.8 343.7 L721.6 343.2 L722.5 343.8 L723.3 343.0 L724.1 341.8 L725.0 343.7 L725.8 344.6 L726.7 344.4 L727.5 344.2 L728.3 345.0 L729.2 344.1 L730.0 343.9 L730.9 345.8 L731.7 344.7 L732.5 344.1 L733.4 345.9 L734.2 345.5 L735.0 345.6 L735.9 345.6 L736.7 343.7 L737.5 343.2 L738.3 344.9 L739.2 345.2 L740.0 344.2 L740.8 343.0 L741.7 342.7 L742.5 343.2 L743.3 343.7 L744.1 344.2 L745.0 344.5 L745.8 342.9 L746.6 343.8 L747.5 344.2 L748.3 343.3 L749.1 342.7 L750.0 343.8 L750.8 342.4 L751.7 341.6 L752.5 342.3 L753.3 341.6 L754.2 342.3 L755.0 341.8 L755.9 343.6 L756.7 342.5 L757.5 341.8 L758.4 340.9 L759.2 340.8 L760.0 341.3 L760.9 341.2 L761.7 339.7 L762.5 339.5 L763.4 340.5 L764.2 340.2 L765.0 341.1 L765.9 340.8 L766.7 342.0 L767.5 341.9 L768.4 339.9 L769.2 338.0 L770.0 337.8 L770.9 337.3 L771.7 338.1 L772.5 339.7 L773.3 337.8 L774.1 338.7 L775.0 338.4 L775.8 338.7 L776.6 338.7 L777.5 338.4 L778.4 335.7 L779.2 335.3 L780.0 336.4 L780.9 334.0 L781.7 334.9 L782.5 334.7 L783.4 334.4 L784.2 334.5 L785.0 334.9 L785.8 335.2 L786.7 333.9 L787.5 336.4 L788.3 334.6 L789.2 335.4 L790.0 335.0 L790.8 334.8 L791.7 334.7 L792.5 334.1 L793.3 334.8 L794.1 334.4 L795.0 334.7 L795.8 336.5 L796.6 334.6 L797.5 335.0 L798.3 335.8 L799.1 337.0 L800.0 336.7 L800.8 336.0 L801.7 335.3 L802.5 336.9 L803.3 336.4 L804.2 335.2 L805.0 336.2 L805.9 336.5 L806.7 335.8 L807.5 335.5 L808.4 334.4 L809.2 337.0 L810.0 336.1 L810.9 336.8 L811.7 336.1 L812.5 336.5 L813.3 336.4 L814.2 337.0 L815.0 335.8 L815.8 336.5 L816.7 334.6 L817.5 335.8 L818.3 334.6 L819.2 334.4 L820.0 335.0 L820.8 336.0 L821.6 336.8 L822.5 336.4 L823.3 337.5 L824.1 338.6 L825.0 336.8 L825.8 338.2 L826.7 337.7 L827.5 335.9 L828.3 335.8 L829.2 335.8 L830.0 335.6 L830.9 335.7 L831.7 335.3 L832.5 337.2 L833.4 337.5 L834.2 337.9 L835.0 337.8 L835.9 337.9 L836.7 339.4 L837.5 339.0 L838.3 338.6 L839.2 339.2 L840.0 340.8 L841.0 340.8 L842.0 341.7 L843.3 335.8 L844.1 335.0 L845.0 337.6 L845.8 336.3 L846.6 336.7 L847.5 337.3 L848.3 338.3 L849.1 338.4 L850.0 338.0 L850.8 338.2 L851.7 339.2 L852.5 339.5 L853.3 338.5 L854.2 339.9 L855.0 339.6 L855.9 340.8 L856.7 339.7 L857.5 341.0 L858.4 340.5 L859.2 339.1 L860.0 339.5 L860.9 340.1 L861.7 339.8 L862.5 339.1 L863.3 340.1 L864.2 340.1 L865.0 340.8 L865.8 339.7 L866.7 340.7 L867.5 340.6 L868.3 339.3 L869.2 338.7 L870.0 339.2 L870.8 339.4 L871.7 339.1 L872.5 340.8 L873.4 341.5 L874.2 341.6 L875.0 341.8 L875.9 342.1 L876.7 342.0 L877.5 341.6 L878.4 343.2 L879.2 341.1 L880.0 342.5 L880.9 340.6 L881.7 341.1 L882.5 341.0 L883.3 342.8 L884.2 342.8 L885.0 342.0 L885.8 342.4 L886.7 344.4 L887.5 342.7 L888.3 345.3 L889.2 345.6 L890.0 345.8 L890.8 346.7 L891.7 345.2 L892.5 343.6 L893.4 344.5 L894.2 343.7 L895.0 345.3 L895.8 344.3 L896.7 344.6 L897.5 347.4 L898.3 346.7 L899.1 346.2 L900.0 347.1 L900.8 346.6 L901.6 345.3 L902.5 346.5 L903.3 345.0 L904.1 345.3 L905.0 344.6 L905.9 347.4 L906.7 347.0 L907.5 346.5 L908.3 345.4 L909.2 345.6 L910.0 345.5 L910.8 344.7 L911.6 344.1 L912.5 344.7 L913.3 347.7 L914.2 346.1 L915.0 347.5 L915.8 348.0 L916.7 348.7 L917.5 347.4 L918.3 349.0 L919.1 348.7 L920.0 347.8 L920.8 347.7 L921.6 349.1 L922.5 350.8 L923.3 349.7 L924.3 350.1 L925.3 351.4 L926.3 352.0 L927.5 346.3 L928.3 346.9 L929.2 347.3 L930.0 347.3 L930.8 347.6 L931.6 348.1 L932.5 348.2 L933.3 348.3 L934.1 347.1 L935.0 348.4 L935.8 347.6 L936.6 349.0 L937.5 349.0 L938.3 348.6 L939.2 347.6 L940.0 347.3 L940.9 348.0 L941.8 345.8 L942.6 346.7 L943.5 346.6 L944.4 347.1 L945.3 346.0 L946.1 345.4 L947.0 346.4 L947.8 345.9 L948.6 345.4 L949.5 344.0 L950.3 345.0 L951.2 345.9 L952.0 344.7 L953.3 339.3 L954.3 342.7 L955.3 345.3 L956.2 344.5 L957.0 344.2 L957.9 344.3 L958.7 345.9 L959.6 344.2 L960.4 344.7 L961.3 344.0 L962.1 344.9 L962.9 344.0 L963.7 344.7 L964.5 346.4 L965.3 346.7 L966.2 347.1 L967.1 345.5 L968.0 346.1 L968.9 345.5 L969.8 344.4 L970.7 343.3 L971.5 343.9 L972.3 345.3 L973.1 344.0 L973.9 344.4 L974.7 346.0 L975.6 345.3 L976.5 346.5 L977.4 345.3 L978.2 346.8 L979.1 345.8 L980.0 345.3 L980.8 344.9 L981.7 344.7 L982.5 346.7 L983.4 345.5 L984.2 345.1 L985.0 345.9 L985.9 346.8 L986.7 346.7 L987.6 344.7 L988.5 344.4 L989.4 344.8 L990.2 341.6 L991.1 341.0 L992.0 340.7 L992.9 342.0 L993.8 343.4 L994.7 346.0 L995.5 343.8 L996.3 342.7 L997.1 341.5 L997.9 342.3 L998.7 340.0 L999.6 340.5 L1000.5 342.0 L1001.4 342.6 L1002.3 343.0 L1003.2 343.5 L1004.1 342.2 L1005.0 344.0 L1005.9 343.0 L1006.7 344.8 L1007.6 343.6 L1008.4 344.7 L1009.3 345.0 L1010.1 344.5 L1011.0 346.0 L1011.8 344.1 L1012.7 344.2 L1013.5 345.2 L1014.3 344.5 L1015.2 343.6 L1016.0 342.0 L1016.9 342.0 L1017.7 342.0 L1018.6 344.9 L1019.4 345.1 L1020.3 343.7 L1021.1 344.5 L1022.0 346.0 L1023.0 345.2 L1024.0 347.0 L1025.0 290.0 L1026.0 346.0 L1026.8 344.8 L1027.6 346.3 L1028.4 345.1 L1029.2 344.7 L1030.0 343.5 L1031.0 346.2 L1032.0 343.7 L1033.0 347.3 L1034.0 345.0 L1035.0 347.5 L1036.0 348.9 L1037.0 345.0 L1038.0 349.1 L1039.0 345.2 L1040.0 349.6 L1041.0 345.1 L1042.0 348.4 L1043.0 347.0 L1044.0 345.3 L1045.0 349.2 L1046.0 345.5 L1047.0 347.8 L1048.0 344.3 L1049.0 348.5 L1050.0 346.0 L1051.1 340.6 L1052.2 339.8 L1053.3 336.7 L1054.3 337.4 L1055.3 338.0 L1056.2 346.5 L1057.2 355.0 L1058.1 363.5 L1059.1 372.0 L1059.9 380.5 L1060.7 389.0 L1061.5 397.5 L1062.3 406.0 L1063.2 412.9 L1064.0 419.8 L1064.9 426.7 L1065.7 433.6 L1066.6 440.5 L1067.5 446.6 L1068.4 452.6 L1069.2 458.7 L1070.1 464.7 L1071.0 470.8 L1071.8 474.6 L1072.6 478.4 L1073.4 482.2 L1074.2 486.0 L1075.2 488.6 L1076.3 491.3 L1077.2 495.7 L1078.0 500.3" fill="none" stroke="#000" stroke-width="2.3" stroke-linejoin="round" stroke-linecap="square"/>
<circle cx="159.3" cy="470.3" r="2.85" fill="#0000ff"/>
<circle cx="1025.4" cy="278.4" r="2.85" fill="#0000ff"/>
<circle cx="1074.3" cy="486.2" r="2.85" fill="#0000ff"/>
<circle cx="1076.3" cy="491.3" r="2.85" fill="#0000ff"/>
<circle cx="1077.2" cy="495.7" r="2.85" fill="#0000ff"/>
<circle cx="1078" cy="500.3" r="2.85" fill="#0000ff"/></g>
<rect x="150.5" y="72.5" width="930.0" height="462.0" fill="none" stroke="#000" stroke-width="1.11"/>
<path d="M238.50 534.5v4.86M364.50 534.5v4.86M489.50 534.5v4.86M615.50 534.5v4.86M741.50 534.5v4.86M866.50 534.5v4.86M992.50 534.5v4.86M150.5 534.50h-4.86M150.5 476.50h-4.86M150.5 419.50h-4.86M150.5 361.50h-4.86M150.5 303.50h-4.86M150.5 245.50h-4.86M150.5 188.50h-4.86M150.5 130.50h-4.86M150.5 72.50h-4.86" stroke="#000" stroke-width="1.11" fill="none"/>
<text x="238.40" y="555" font-size="14" text-anchor="middle" textLength="16.3" lengthAdjust="spacingAndGlyphs">20</text>
<text x="364.07" y="555" font-size="14" text-anchor="middle" textLength="16.3" lengthAdjust="spacingAndGlyphs">30</text>
<text x="489.73" y="555" font-size="14" text-anchor="middle" textLength="16.3" lengthAdjust="spacingAndGlyphs">40</text>
<text x="615.40" y="555" font-size="14" text-anchor="middle" textLength="16.3" lengthAdjust="spacingAndGlyphs">50</text>
<text x="741.07" y="555" font-size="14" text-anchor="middle" textLength="16.3" lengthAdjust="spacingAndGlyphs">60</text>
<text x="866.74" y="555" font-size="14" text-anchor="middle" textLength="16.3" lengthAdjust="spacingAndGlyphs">70</text>
<text x="992.40" y="555" font-size="14" text-anchor="middle" textLength="16.3" lengthAdjust="spacingAndGlyphs">80</text>
<text x="132.20" y="539.50" font-size="14" textLength="8.7" lengthAdjust="spacingAndGlyphs">0</text>
<text x="131.50" y="481.75" font-size="14" textLength="8.5" lengthAdjust="spacingAndGlyphs">5</text>
<text x="123.40" y="424.00" font-size="14" textLength="16.3" lengthAdjust="spacingAndGlyphs">10</text>
<text x="123.40" y="366.25" font-size="14" textLength="16.3" lengthAdjust="spacingAndGlyphs">15</text>
<text x="123.40" y="308.50" font-size="14" textLength="16.3" lengthAdjust="spacingAndGlyphs">20</text>
<text x="123.40" y="250.75" font-size="14" textLength="16.3" lengthAdjust="spacingAndGlyphs">25</text>
<text x="123.40" y="193.00" font-size="14" textLength="16.3" lengthAdjust="spacingAndGlyphs">30</text>
<text x="123.40" y="135.25" font-size="14" textLength="16.3" lengthAdjust="spacingAndGlyphs">35</text>
<text x="123.40" y="77.50" font-size="14" textLength="16.3" lengthAdjust="spacingAndGlyphs">40</text>
<text x="556.2" y="574.1" font-size="14" textLength="117.8" lengthAdjust="spacingAndGlyphs">Frequency (MHz)</text>
<text transform="translate(112.9,346.9) rotate(-90)" x="0" y="0" font-size="14" textLength="85.8" lengthAdjust="spacingAndGlyphs">Power (CPU)</text>
<text x="449" y="63.6" font-size="16.67" textLength="332" lengthAdjust="spacingAndGlyphs">2023-12-01 - Cor 210 - LWA143 - Pol XX</text>
<rect x="899.7" y="79.7" width="173.5" height="66.5" rx="2.8" ry="2.8" fill="#fff" fill-opacity="0.8" stroke="#cccccc" stroke-opacity="0.8" stroke-width="1.1"/>
<path d="M903.1 90.9H932.9" stroke="#000" stroke-width="2.08"/>
<circle cx="918.4" cy="112.5" r="2.7" fill="#0000ff"/>
<rect x="904" y="128.1" width="28.9" height="9.4" fill="#808080" fill-opacity="0.4" stroke="#808080" stroke-opacity="0.4" stroke-width="1"/>
<text x="943.0" y="95.2" font-size="14" textLength="122.1" lengthAdjust="spacingAndGlyphs">Median Spectrum</text>
<text x="943.0" y="115.6" font-size="14" textLength="123.6" lengthAdjust="spacingAndGlyphs">Flagged Channels</text>
<text x="943.0" y="137.2" font-size="14" textLength="120.0" lengthAdjust="spacingAndGlyphs">Median Abs. Dev.</text>

</svg></body></html>
